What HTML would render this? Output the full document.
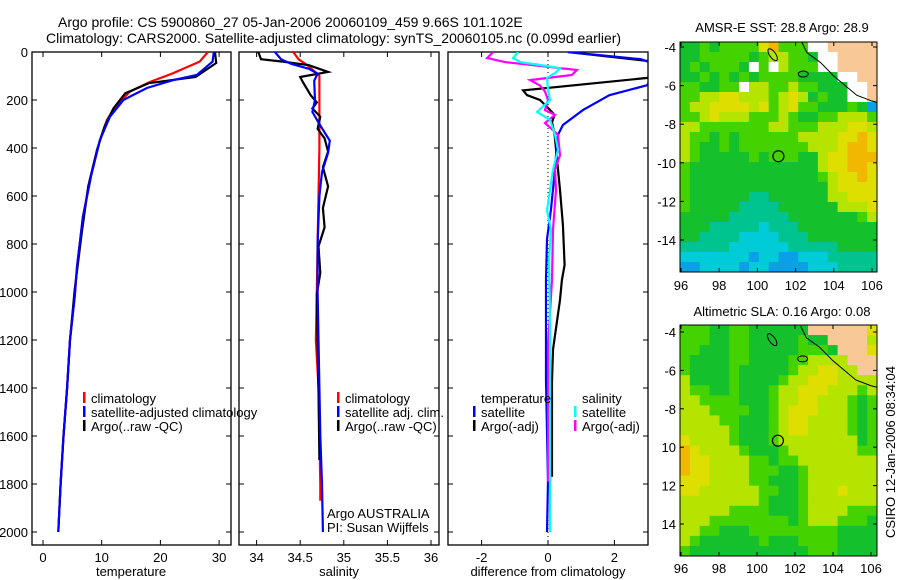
<!DOCTYPE html>
<html><head><meta charset="utf-8"><style>
body{margin:0;background:#fff}
svg{display:block;font-family:"Liberation Sans",sans-serif;font-size:13px}
.t{font-size:14px}
</style></head><body>
<svg id="c" width="900" height="580" xmlns="http://www.w3.org/2000/svg">
<defs>
<clipPath id="cp1"><rect x="32" y="52" width="199" height="493"/></clipPath>
<clipPath id="cp2"><rect x="239" y="52" width="200" height="493"/></clipPath>
<clipPath id="cp3"><rect x="448" y="52" width="200" height="493"/></clipPath>
<clipPath id="cm1"><rect x="680" y="42" width="197" height="230"/></clipPath>
<clipPath id="cm2"><rect x="680" y="325" width="197" height="231"/></clipPath>
</defs>
<text class="t" x="58" y="27">Argo profile: CS 5900860_27 05-Jan-2006 20060109_459 9.66S 101.102E</text>
<text class="t" x="46" y="43">Climatology: CARS2000. Satellite-adjusted climatology: synTS_20060105.nc (0.099d earlier)</text>
<text x="782" y="32" text-anchor="middle">AMSR-E SST: 28.8 Argo: 28.9</text>
<text x="782" y="316" text-anchor="middle">Altimetric SLA: 0.16 Argo: 0.08</text>
<text transform="translate(895,452) rotate(-90)" text-anchor="middle">CSIRO 12-Jan-2006 08:34:04</text>
<g id="g"></g>
</svg>
<script>
// ---- data ----
const depthTicks=[0,200,400,600,800,1000,1200,1400,1600,1800,2000];
const tempTicks=[0,10,20,30];
const salTicks=[34,34.5,35,35.5,36];
const salTickLabels=["34","34.5","35","35.5","36"];
const diffTicks=[-2,0,2];
const tempArgoD=[0,46,104,130,172,235,310,408,560,755,990,1200,1400,1600,1800,2000];
const tempArgoV=[29.3,29.5,26,18,14,12,10.5,9.2,7.7,6.6,5.4,4.6,4.1,3.5,3.0,2.6];
const tempClimD=[0,40,90,125,165,228,283,367,533,687,895,1020,1200,1400,1600,1800,1900];
const tempClimV=[28.1,26.7,22,18.2,14.8,12.3,10.9,9.7,8.0,6.8,5.8,5.4,4.6,4.1,3.5,3.0,2.8];
const tempSatD=[0,40,96,117,150,200,270,367,505,687,895,1020,1200,1400,1600,1800,2000];
const tempSatV=[29.1,28.9,26.2,22.2,17.7,13.7,11.4,9.7,8.3,6.8,5.8,5.4,4.6,4.1,3.5,3.0,2.6];
const salArgoD=[0,30,40,55,83,104,125,180,210,235,270,320,360,415,480,560,650,730,810,920,1010,1200,1400,1700];
const salArgoV=[34.02,34.05,34.3,34.6,34.82,34.5,34.53,34.62,34.69,34.64,34.73,34.7,34.78,34.82,34.76,34.82,34.76,34.78,34.71,34.73,34.69,34.7,34.71,34.72];
const salClimD=[0,30,60,100,200,400,600,800,1000,1200,1400,1600,1800,1870];
const salClimV=[34.42,34.48,34.6,34.72,34.72,34.72,34.71,34.7,34.69,34.68,34.71,34.72,34.73,34.73];
const salSatD=[0,30,50,70,90,120,200,250,300,370,420,500,600,800,1000,1200,1400,1600,1800,2000];
const salSatV=[34.21,34.28,34.4,34.6,34.7,34.66,34.67,34.64,34.72,34.84,34.82,34.75,34.72,34.7,34.7,34.71,34.72,34.73,34.75,34.76];
const dTArgoD=[0,45,108,160,180,200,233,262,292,345,575,720,887,950,1033,1240,1370,1740,1770];
const dTArgoV=[0.6,3.5,3.0,-0.75,-0.63,-0.24,0,0.2,0.12,0.2,0.36,0.45,0.5,0.42,0.36,0.15,0.12,0.12,0.12];
const dTSatD=[0,30,50,138,180,242,304,345,430,530,655,780,950,1370,1790,2000];
const dTSatV=[0.6,2.8,3.2,3.0,1.85,1.05,0.45,0.3,0.24,0.18,0.09,-0.03,-0.06,-0.06,0,-0.03];
const dSArgoD=[0,25,42,75,96,117,140,165,200,242,262,296,345,430,490,575,740,950,1220,1450,1740,1790];
const dSArgoV=[-1.65,-1.83,-1.3,0.87,0.72,-0.54,-0.24,-0.09,0,-0.09,0.21,-0.09,0.3,0.36,0.21,0.24,0.15,0.12,0,0,0,0];
const dSSatD=[0,25,42,54,67,88,108,158,200,250,283,345,408,490,660,740,866,1160,1617,2000];
const dSSatV=[-0.9,-1.05,-0.84,-0.24,0.36,0.21,-0.03,0,0.06,-0.33,0.06,0.21,0.3,0.15,-0.03,0.09,0.03,0.06,0.06,0.06];
const mapLonTicks=[96,98,100,102,104,106];
const mapLatTicks=[-4,-6,-8,-10,-12,-14];
const map2LatLabels=["-4","-6","-8","10","12","14"];
const sstRows=[
"kkgkggggYogggwwlllll","kkgggggkgyyggkwwllll","kgkgggkwgwygggwwllll","kkgkgkgkggggkkkkwwll",
"ggkkggwyyggyggkkkwwl","ggyyYYyyygyYykgkkwwl","gyyYYYYyYgyYggkkkgkb","ggyYyyygggygkkggyyyg",
"yygggggggyygggyyyYYy","yggkgkggggggyyyyYYoY","ygkkgkgggggggyyyYooY","ygkkkkkgkgggkkyYYooo",
"gkkkkkkkkkkkkkyYYooY","gkkkkkkkkkkkkkgyYYoY","gkkkkkkkkkkkkkkyYYYY","gkkkkkkttkkkkkkyyYYY",
"gkkkkkttttkkkkkkyyyY","kkkkkttttttkkkkkkkgy","kkktttttctttkkkkkkkk","kkttttcccctttkkkkkkk",
"tttttcccccctttttkkkk","cccccccbccbbcccttttt","bbccccbccbbbbccctttt"];
const slaRows=[
"gggkkggkkkkkkllllllY","gggkkggkkkkkgkklllly","ggkkkggkkkkkgggklllY","gkkkkggkkkkggyyyylll",
"gkkkkgkkkkkgyyYYyyll","ykkkkgkkkkgyyYYYyyyy","yggkkgkkkgyyYYYyyygy","yyggggkkkgyyYYyyygkg",
"yyyggggkkgyYYYyyygkg","yyyyggkkkgyYYyyyygkg","yyyyygkkkgyYYyyyygkg","Yyyyygkkkgyyyyyyyykg",
"oYyyyygkkkgyyyyyyygg","oYYyyyyggkggyyyyyyyy","oYYyyyygggkkgyyyyyyy","YYYyyyyggkkkgyyyyyyy",
"YYyyyyyyggkkgyyyYyyy","yyyyyyyygkkkgyyyyyyy","yyyyyggggkkkgyyyyggg","yyyggggggggkgyyygggk",
"yyggkkkgggggggggkkkk","ygkkkkkkgkkkggggkkkk","gkkkkkkkkkkkkgggkkkk"];
const argoLon=101.1, argoLat=-9.66;
// ---- drawing ----
const NS="http://www.w3.org/2000/svg";
const G=document.getElementById('g');
function mk(t,a,p){const e=document.createElementNS(NS,t);for(const k in a)e.setAttribute(k,a[k]);(p||G).appendChild(e);return e;}
const yD=d=>52+0.24*d;
const xT=v=>43+5.87*v;
const xS=v=>256.6+87.2*(v-34);
const xDf=v=>548+33.2*v;
function panel(x0,x1,name){
  const r=mk('rect',{x:x0,y:52,width:x1-x0,height:493,fill:'none',stroke:'#000','stroke-width':1.3});
  
  
  depthTicks.forEach(d=>{const y=yD(d);mk('line',{x1:x0,x2:x0+5,y1:y,y2:y,stroke:'#000'});mk('line',{x1:x1-5,x2:x1,y1:y,y2:y,stroke:'#000'});});
}
function xticks(ticks,fx,labels,name){
  ticks.forEach((v,i)=>{const x=fx(v);mk('line',{x1:x,x2:x,y1:545,y2:540,stroke:'#000'});mk('line',{x1:x,x2:x,y1:52,y2:57,stroke:'#000'});
    const t=mk('text',{x:x,y:562,'text-anchor':'middle'});t.textContent=labels?labels[i]:String(v);
    
    });
}
panel(32,231,'temperature-panel');panel(239,439,'salinity-panel');panel(448,648,'difference-panel');
depthTicks.forEach(d=>{const t=mk('text',{x:28,y:yD(d)+5,'text-anchor':'end'});t.textContent=String(d);
  
  });
xticks(tempTicks,xT,null,'temperature');xticks(salTicks,xS,salTickLabels,'salinity');
xticks(diffTicks,xDf,["-2","0","2"],'difference');
[['temperature',131,'temperature-axis-title'],['salinity',339,'salinity-axis-title'],['difference from climatology',548,'difference-axis-title']].forEach(a=>{
  const t=mk('text',{x:a[1],y:576,'text-anchor':'middle'});t.textContent=a[0];
  
  });
mk('line',{x1:xDf(0),x2:xDf(0),y1:52,y2:545,stroke:'#000','stroke-dasharray':'1,3'});
function line(D,V,fx,col,clip,name){
  const pts=D.map((d,i)=>fx(V[i]).toFixed(1)+','+yD(d).toFixed(1)).join(' ');
  const p=mk('polyline',{points:pts,fill:'none',stroke:col,'stroke-width':2.2,'clip-path':'url(#'+clip+')'});
  
  
}
line(tempClimD,tempClimV,xT,'#f00','cp1','temperature-climatology-line');
line(tempArgoD,tempArgoV,xT,'#000','cp1','temperature-argo-line');
line(tempSatD,tempSatV,xT,'#00f','cp1','temperature-satellite-line');
line(salClimD,salClimV,xS,'#f00','cp2','salinity-climatology-line');
line(salArgoD,salArgoV,xS,'#000','cp2','salinity-argo-line');
line(salSatD,salSatV,xS,'#00f','cp2','salinity-satellite-line');
line(dTArgoD,dTArgoV,xDf,'#000','cp3','temp-diff-argo-line');
line(dTSatD,dTSatV,xDf,'#00f','cp3','temp-diff-satellite-line');
line(dSArgoD,dSArgoV,xDf,'#f0f','cp3','sal-diff-argo-line');
line(dSSatD,dSSatV,xDf,'#0ff','cp3','sal-diff-satellite-line');
function leg(x,y,col,txt,name){
  if(col){mk('rect',{x:x,y:y-11,width:2.5,height:11,fill:col});}
  const t=mk('text',{x:x+8,y:y});t.textContent=txt;
  
  
}
leg(83,403,'#f00','climatology','legend-climatology');
leg(83,417,'#00f','satellite-adjusted climatology','legend-satellite-adjusted');
leg(83,431,'#000','Argo(..raw -QC)','legend-argo');
leg(337,403,'#f00','climatology','legend-sal-climatology');
leg(337,417,'#00f','satellite adj. clim.','legend-sal-satellite');
leg(337,431,'#000','Argo(..raw -QC)','legend-sal-argo');
leg(473,403,null,'temperature','legend-temp-header');
leg(473,417,'#00f','satellite','legend-temp-satellite');
leg(473,431,'#000','Argo(-adj)','legend-temp-argo');
leg(574,403,null,'salinity','legend-sal-header');
leg(574,417,'#0ff','satellite','legend-sal-diff-satellite');
leg(574,431,'#f0f','Argo(-adj)','legend-sal-diff-argo');
leg(319,518,null,'Argo AUSTRALIA','argo-agency-label');
leg(319,532,null,'PI: Susan Wijffels','pi-label');
// maps
const pal={g:'#44d200',k:'#14c02c',y:'#b4e400',Y:'#dede00',o:'#f0b800',t:'#00c490',c:'#00ccd8',b:'#0aa0e6',w:'#ffffff',l:'#f8c896'};
function map(rows,x0,y0,w,h,lon0,lat0,sx,sy,clip,name,latLabels,xLabY){
  const grp=mk('g',{'clip-path':'url(#'+clip+')'});
  
  
  const nr=rows.length,nc=rows[0].length,cw=w/nc,ch=h/nr;
  rows.forEach((r,i)=>{for(let j=0;j<nc;j++){mk('rect',{x:(x0+j*cw).toFixed(2),y:(y0+i*ch).toFixed(2),width:(cw+0.6).toFixed(2),height:(ch+0.6).toFixed(2),fill:pal[r[j]]},grp);}});
  const X=lo=>x0+1+(lo-96)*sx, Y=la=>lat0+(la+4)*-sy;
  const coast=[[102.3,-3.7],[102.6,-4.3],[103.3,-4.8],[104,-5.5],[104.6,-6],[105.2,-6.5],[106,-6.8],[106.4,-6.9]];
  mk('polyline',{points:coast.map(p=>X(p[0])+','+Y(p[1])).join(' '),fill:'none',stroke:'#000','stroke-width':1},grp);
  mk('ellipse',{cx:X(100.8),cy:Y(-4.4),rx:3,ry:7,fill:'none',stroke:'#000',transform:'rotate(-35 '+X(100.8)+' '+Y(-4.4)+')'},grp);
  mk('ellipse',{cx:X(102.4),cy:Y(-5.4),rx:5,ry:3,fill:'none',stroke:'#000'},grp);
  const ci=mk('circle',{cx:X(argoLon),cy:Y(argoLat),r:5.5,fill:'none',stroke:'#000','stroke-width':1.2});
  
  
  mk('rect',{x:x0,y:y0,width:w,height:h,fill:'none',stroke:'#000'});
  mapLatTicks.forEach((la,i)=>{const y=Y(la);mk('line',{x1:x0,x2:x0+4,y1:y,y2:y,stroke:'#000'});mk('line',{x1:x0+w-4,x2:x0+w,y1:y,y2:y,stroke:'#000'});
    const t=mk('text',{x:x0-4,y:y+5,'text-anchor':'end'});t.textContent=latLabels[i];
    
    });
  mapLonTicks.forEach(lo=>{const x=X(lo);mk('line',{x1:x,x2:x,y1:y0+h,y2:y0+h-4,stroke:'#000'});mk('line',{x1:x,x2:x,y1:y0,y2:y0+4,stroke:'#000'});
    const t=mk('text',{x:x,y:xLabY,'text-anchor':'middle'});t.textContent=String(lo);
    
    });
}
map(sstRows,680,42,197,230,96,47,19.1,19.3,'cm1','sst-map',mapLatTicks.map(String),290);
map(slaRows,680,325,197,231,96,332,19.0,19.2,'cm2','sla-map',map2LatLabels,573);
</script>
</body></html>
